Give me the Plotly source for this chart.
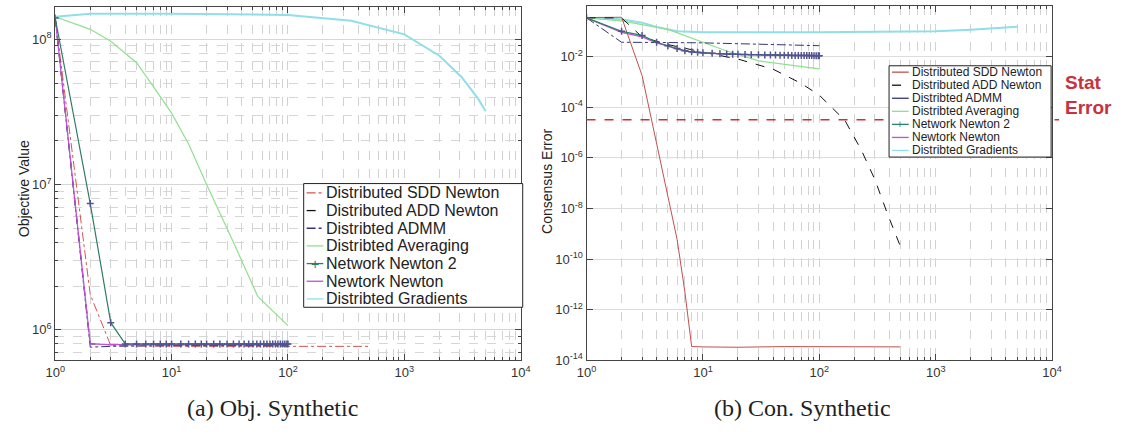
import plotly.graph_objects as go

# ---------------- data: (a) objective value ----------------
a_sdd_x = [1, 2, 3, 10, 100, 500]
a_sdd_y = [1.4e8, 1.75e6, 7.8e5, 7.7e5, 7.7e5, 7.7e5]
a_add_x = [1, 2, 3, 10, 100]
a_add_y = [1.4e8, 8.0e5, 7.9e5, 7.9e5, 7.9e5]
a_admm_x = [1, 2, 3, 10, 100]
a_admm_y = [1.4e8, 7.6e5, 7.7e5, 7.8e5, 7.8e5]
a_avg_x = [1, 2, 3, 5, 7, 10, 14, 20, 35, 55, 100]
a_avg_y = [1.43e8, 1.17e8, 9.7e7, 6.9e7, 4.7e7, 3.1e7, 1.9e7, 1.0e7, 3.8e6, 1.7e6, 1.07e6]
nn2_x = [1, 2, 3, 4, 5, 6, 7, 8, 9, 10, 12, 14, 16, 18, 20, 23, 26, 30, 34, 38,
         42, 46, 50, 54, 58, 62, 66, 70, 74, 78, 82, 86, 90, 94, 98, 100]
a_nn2_y = [1.4e8, 7.4e6, 1.12e6, 8.0e5, 8.0e5, 8.0e5, 8.0e5, 8.0e5, 8.0e5, 8.0e5,
           8.0e5, 8.0e5, 8.0e5, 8.0e5, 8.0e5, 8.0e5, 8.0e5, 8.0e5, 8.0e5, 8.0e5,
           8.0e5, 8.0e5, 8.0e5, 8.0e5, 8.0e5, 8.0e5, 8.0e5, 8.0e5, 8.0e5, 8.0e5,
           8.0e5, 8.0e5, 8.0e5, 8.0e5, 8.0e5, 8.0e5]
a_nn_x = [1, 2, 3, 5, 10, 20, 50, 100]
a_nn_y = [1.4e8, 8.0e5, 7.9e5, 7.9e5, 7.9e5, 7.9e5, 7.9e5, 7.9e5]
a_grad_x = [1, 2, 5, 10, 100, 350, 1000, 2000, 3100, 4300, 5000]
a_grad_y = [1.43e8, 1.5e8, 1.5e8, 1.5e8, 1.47e8, 1.34e8, 1.08e8, 7.7e7, 5.5e7, 3.9e7, 3.2e7]

# ---------------- data: (b) consensus error ----------------
b_sdd_x = [1, 2, 3, 4, 5, 6, 7, 8, 10, 20, 50, 100, 200, 500]
b_sdd_y = [0.35, 0.36, 1.8e-3, 4e-6, 3e-8, 6e-10, 5e-12, 3.5e-14, 3.4e-14, 3.3e-14,
           3.5e-14, 3.4e-14, 3.5e-14, 3.4e-14]
b_add_x = [1, 2, 3, 5, 10, 20, 40, 70, 100, 166, 230, 300, 383, 493]
b_add_y = [0.34, 0.34, 0.06, 0.03, 0.015, 8e-3, 3.2e-3, 8.7e-4, 3e-4, 3e-5, 2e-6,
           1.4e-7, 6.6e-9, 3.5e-10]
b_admm_x = [1, 2, 5, 10, 30, 100]
b_admm_y = [0.34, 0.037, 0.036, 0.035, 0.031, 0.027]
b_avg_x = [1, 2, 5, 9.5, 16, 30, 100]
b_avg_y = [0.34, 0.26, 0.12, 0.04, 0.0166, 6.8e-3, 3.3e-3]
b_nn2_y = [0.34, 0.1, 0.069, 0.037, 0.027, 0.021, 0.017, 0.0155, 0.0148, 0.0142,
           0.0135, 0.013, 0.0127, 0.0125, 0.0123, 0.0121, 0.012, 0.0118, 0.0117, 0.0116,
           0.0115, 0.0114, 0.0113, 0.0113, 0.0112, 0.0112, 0.0111, 0.0111, 0.011, 0.011,
           0.011, 0.011, 0.0109, 0.0109, 0.0109, 0.0109]
b_nn_x = [1, 2, 3, 4, 5, 6, 8, 10, 20, 50, 100]
b_nn_y = [0.34, 0.09, 0.06, 0.035, 0.026, 0.02, 0.015, 0.0138, 0.0122, 0.0113, 0.0109]
b_grad_x = [1, 2, 3, 4, 6, 10, 100, 500, 1000, 2000, 5000]
b_grad_y = [0.34, 0.3, 0.22, 0.15, 0.1, 0.092, 0.091, 0.094, 0.1, 0.115, 0.15]
STAT_ERROR = 3.2e-5

names = ["Distributed SDD Newton", "Distributed ADD Newton", "Distribted ADMM",
         "Distribted Averaging", "Network Newton 2", "Newtork Newton",
         "Distribted Gradients"]
x_ticks = [1, 10, 100, 1000, 10000]
x_ticktext = ["10<sup>0</sup>", "10<sup>1</sup>", "10<sup>2</sup>", "10<sup>3</sup>", "10<sup>4</sup>"]
a_yticks = [1e6, 1e7, 1e8]
a_yticktext = ["10<sup>6</sup>", "10<sup>7</sup>", "10<sup>8</sup>"]
b_yticks = [1e-14, 1e-12, 1e-10, 1e-8, 1e-6, 1e-4, 1e-2, 1]
b_yticktext = ["10<sup>-14</sup>", "10<sup>-12</sup>", "10<sup>-10</sup>", "10<sup>-8</sup>",
               "10<sup>-6</sup>", "10<sup>-4</sup>", "10<sup>-2</sup>", "10<sup>0</sup>"]

C_SDD = "#d9534f"
C_SDD_B = "#c0504d"
C_ADD = "#111111"
C_ADMM = "#34347a"
C_AVG = "#8fe08f"
C_NN2 = "#2e7d64"
C_NN2M = "#4f5590"
C_NN = "#c050d8"
C_GRAD = "#8fdfe8"

W, H = 1123, 437
fig = go.Figure()


def add_panel(xa, ya, data, sdd_dash, sdd_color):
    (sx, sy), (dx, dy), (mx, my), (vx, vy), n2y, (nx, ny), (gx, gy) = data
    specs = [
        (gx, gy, names[6], C_GRAD, "solid", 2.0),
        (vx, vy, names[3], C_AVG, "solid", 1.2),
        (sx, sy, names[0], sdd_color, sdd_dash, 1.0),
        (dx, dy, names[1], C_ADD, "dash", 1.0),
        (mx, my, names[2], C_ADMM, "dashdot", 1.0),
        (nx, ny, names[5], C_NN, "solid", 1.3),
    ]
    for x, y, nm, c, d, w in specs:
        fig.add_trace(go.Scatter(x=x, y=y, name=nm, mode="lines", xaxis=xa, yaxis=ya,
                                 showlegend=False, line=dict(color=c, dash=d, width=w)))
    fig.add_trace(go.Scatter(x=nn2_x, y=n2y, name=names[4], mode="lines+markers",
                             xaxis=xa, yaxis=ya, showlegend=False,
                             line=dict(color=C_NN2, width=1.2),
                             marker=dict(symbol="cross-thin", size=5,
                                         line=dict(color=C_NN2M, width=1.5))))


add_panel("x", "y",
          [(a_sdd_x, a_sdd_y), (a_add_x, a_add_y), (a_admm_x, a_admm_y),
           (a_avg_x, a_avg_y), a_nn2_y, (a_nn_x, a_nn_y), (a_grad_x, a_grad_y)],
          "dashdot", C_SDD)
add_panel("x2", "y2",
          [(b_sdd_x, b_sdd_y), (b_add_x, b_add_y), (b_admm_x, b_admm_y),
           (b_avg_x, b_avg_y), b_nn2_y, (b_nn_x, b_nn_y), (b_grad_x, b_grad_y)],
          "solid", C_SDD_B)

# stat error line
fig.add_shape(type="line", xref="x2 domain", yref="y2", x0=0, x1=1.015,
              y0=STAT_ERROR, y1=STAT_ERROR,
              line=dict(color="#c8323c", width=1.5, dash="dash"))


def px(x):
    return x / W


def py(y):
    return 1 - y / H


# ---------------- hand-built legends (compact, like the original) ----------------
def draw_legend(x0, x1, y0, y1, row0, step, font_size, styles):
    fig.add_shape(type="rect", xref="paper", yref="paper", x0=px(x0), x1=px(x1),
                  y0=py(y1), y1=py(y0), line=dict(color="#222", width=1),
                  fillcolor="white", layer="above")
    for i, (nm, (c, d)) in enumerate(zip(names, styles)):
        yc = row0 + step * i
        fig.add_shape(type="line", xref="paper", yref="paper", x0=px(x0 + 3),
                      x1=px(x0 + 20), y0=py(yc), y1=py(yc), layer="above",
                      line=dict(color=c, dash=d, width=1.3))
        if nm == names[4]:
            fig.add_annotation(xref="paper", yref="paper", x=px(x0 + 11.5), y=py(yc),
                               text="+", showarrow=False, xanchor="center",
                               yanchor="middle",
                               font=dict(size=font_size - 2, color=C_NN2))
        fig.add_annotation(xref="paper", yref="paper", x=px(x0 + 21), y=py(yc),
                           text=nm, showarrow=False, xanchor="left", yanchor="middle",
                           font=dict(family="Liberation Sans, Arial", size=font_size,
                                     color="#222"))


left_styles = [(C_SDD, "dashdot"), (C_ADD, "dash"), (C_ADMM, "dashdot"), (C_AVG, "solid"),
               (C_NN2, "solid"), (C_NN, "solid"), (C_GRAD, "solid")]
right_styles = [(C_SDD_B, "solid"), (C_ADD, "dash"), (C_ADMM, "solid"), (C_AVG, "solid"),
                (C_NN2, "solid"), (C_NN, "solid"), (C_GRAD, "solid")]
draw_legend(299, 522, 187, 313, 196.5, 18, 16, left_styles)
draw_legend(895, 1060, 67, 160, 73.5, 13.3, 12, right_styles)

minor_x = [2, 3, 4, 5, 6, 7, 8, 9, 20, 30, 40, 50, 60, 70, 80, 90,
           200, 300, 400, 500, 600, 700, 800, 900, 2000, 3000, 4000, 5000, 6000, 7000, 8000, 9000]
minor_ya = [6e5, 7e5, 8e5, 9e5, 2e6, 3e6, 4e6, 5e6, 6e6, 7e6, 8e6, 9e6,
            2e7, 3e7, 4e7, 5e7, 6e7, 7e7, 8e7, 9e7, 2e8]

tickfont = dict(family="Liberation Sans, Arial", size=13, color="#333")
common_x = dict(type="log", range=[0, 4], tickvals=x_ticks, ticktext=x_ticktext,
                ticks="inside", ticklen=6, tickcolor="#444", showline=True,
                linecolor="#444", linewidth=1, mirror="allticks", showgrid=True,
                gridcolor="#d2d2d2", griddash="dash", gridwidth=1, tickfont=tickfont,
                minor=dict(tickvals=minor_x, ticks="inside", ticklen=3, tickcolor="#444",
                           showgrid=True, gridcolor="#d2d2d2", griddash="dash"))

fig.update_layout(
    width=W, height=H,
    margin=dict(l=0, r=0, t=0, b=0),
    paper_bgcolor="white", plot_bgcolor="white",
    font=dict(family="Liberation Sans, Arial", color="#222"),
    showlegend=False,
    xaxis=dict(domain=[0.041, 0.463], anchor="y", **common_x),
    xaxis2=dict(domain=[0.5227, 0.9448], anchor="y2", **common_x),
    yaxis=dict(type="log", range=[5.79, 8.223], domain=[0.16, 0.984], anchor="x",
               tickvals=a_yticks, ticktext=a_yticktext, ticks="inside", ticklen=6,
               tickcolor="#444", showline=True, linecolor="#444", linewidth=1,
               mirror="allticks", showgrid=True, gridcolor="#d6d6d6", tickfont=tickfont,
               minor=dict(tickvals=minor_ya, ticks="inside", ticklen=3, tickcolor="#444",
                          showgrid=True, gridcolor="#d6d6d6", griddash="dash")),
    yaxis2=dict(type="log", range=[-14, 0], domain=[0.16, 0.986], anchor="x2",
                tickvals=b_yticks, ticktext=b_yticktext, ticks="inside", ticklen=6,
                tickcolor="#444", showline=True, linecolor="#444", linewidth=1,
                mirror="allticks", showgrid=True, gridcolor="#dcdcdc", tickfont=tickfont),
)

annos = [
    dict(text="Objective Value", x=px(15), y=py(192), textangle=-90,
         font=dict(size=14, color="#222")),
    dict(text="Consensus Error", x=px(546), y=py(185), textangle=-90,
         font=dict(size=14, color="#222")),
    dict(text="(a) Obj. Synthetic", x=px(267), y=py(416),
         font=dict(family="Liberation Serif, Times New Roman", size=24, color="#222")),
    dict(text="(b) Con. Synthetic", x=px(807), y=py(416),
         font=dict(family="Liberation Serif, Times New Roman", size=24, color="#222")),
    dict(text="<b>Stat</b><br><b>Error</b>", x=px(1072), y=py(97),
         xanchor="left", align="left",
         font=dict(family="Liberation Sans, Arial", size=19, color="#c8323c")),
]
for a in annos:
    a.setdefault("xanchor", "center")
    fig.add_annotation(xref="paper", yref="paper", showarrow=False, yanchor="middle", **a)

fig.write_html("out.html")
